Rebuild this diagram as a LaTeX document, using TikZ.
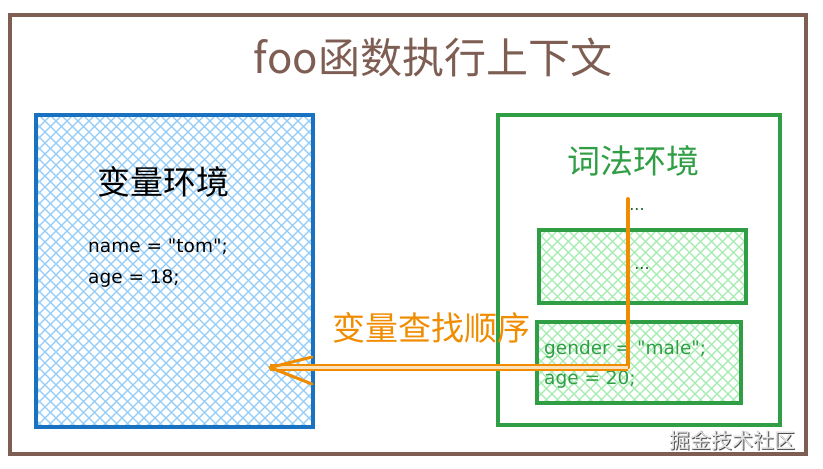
\documentclass[tikz,border=0pt]{standalone}
\usepackage{fontspec}
\newfontfamily\cjk{Noto Sans CJK SC}
\newfontfamily\codefont{DejaVu Sans}
\definecolor{brownc}{HTML}{7E5D52}
\definecolor{bluec}{HTML}{1971C2}
\definecolor{bluehatch}{HTML}{93CCF7}
\definecolor{greenc}{HTML}{2F9E44}
\definecolor{greenhatch}{HTML}{A3EBAE}
\definecolor{orangec}{HTML}{F08C00}
\begin{document}
\begin{tikzpicture}[x=1pt,y=-1pt,
  frame/.style={draw=brownc,line width=4.5pt},
  bluebox/.style={draw=bluec,line width=3.5pt,rectangle,inner sep=0pt},
  greenbox/.style={draw=greenc,line width=3.5pt,rectangle,inner sep=0pt},
  hatchb/.style={draw=bluehatch,line width=1.3pt},
  hatchg/.style={draw=greenhatch,line width=1.3pt},
  orangeline/.style={draw=orangec,line width=4pt,line cap=round,line join=round},
  txt/.style={font=\cjk,inner sep=0pt},
  code/.style={font=\codefont\fontsize{18.5}{22}\selectfont,inner sep=0pt,anchor=west}
]
\useasboundingbox (0,0) rectangle (823,469);
\fill[white] (0,0) rectangle (823,469);
\draw[frame] (10,15) rectangle (806,454);

\node[txt,text=brownc,font=\cjk\fontsize{42}{48}\selectfont] (title) at (433,57) {foo函数执行上下文};

% blue box hatch
\begin{scope}
\clip (36,115) rectangle (313,427);
\foreach \i in {-340,-329,...,660} {
  \draw[hatchb] (\i,110) -- ++(330,330);
  \draw[hatchb] (\i,110) -- ++(-330,330);
}
\end{scope}
\node[bluebox,minimum width=277pt,minimum height=312pt] (varenv) at (174.5,271) {};
\node[txt,font=\cjk\fontsize{33}{38}\selectfont] (varlabel) at (163,182) {变量环境};
\node[code] (name) at (88,247) {name = "tom";};
\node[code] (age1) at (88,279) {age = 18;};

% green outer box
\node[greenbox,minimum width=282pt,minimum height=310pt] (lexenv) at (639,270) {};
\node[txt,text=greenc,font=\cjk\fontsize{33}{38}\selectfont] (lexlabel) at (633,161) {词法环境};
\node[txt,text=greenc!60!black,font=\codefont\fontsize{16}{18}\selectfont] (dots0) at (637,210) {...};

% inner box 1
\begin{scope}
\clip (539,230) rectangle (746,303);
\foreach \i in {200,211,...,1000} {
  \draw[hatchg] (\i,225) -- ++(90,90);
  \draw[hatchg] (\i,225) -- ++(-90,90);
}
\end{scope}
\node[greenbox,minimum width=207pt,minimum height=73pt] (inner1) at (642.5,266.5) {};
\node[txt,text=greenc!60!black,font=\codefont\fontsize{16}{18}\selectfont] (dots1) at (642,269) {...};

% inner box 2
\begin{scope}
\clip (537,322) rectangle (741,403);
\foreach \i in {200,211,...,1000} {
  \draw[hatchg] (\i,317) -- ++(95,95);
  \draw[hatchg] (\i,317) -- ++(-95,95);
}
\end{scope}
\node[greenbox,minimum width=204pt,minimum height=81pt] (inner2) at (639,362.5) {};
\node[code,text=greenc] (gender) at (544,349) {gender = "male";};
\node[code,text=greenc] (age2) at (544,380) {age = 20;};

% orange arrow
\node[txt,text=orangec,font=\cjk\fontsize{33}{38}\selectfont] (order) at (431,328) {变量查找顺序};
\coordinate (vtop) at (628,199);
\coordinate (corner) at (628,367.5);
\coordinate (tip) at (270,367.5);
\coordinate (wing1) at (312,357);
\coordinate (wing2) at (312,384);
\draw[orangeline] (vtop) -- (corner);
\draw[draw=orangec,line width=2pt,double=orangec!25,double distance=2.6pt] (corner) -- (tip);
\draw[orangeline,line width=3pt] (wing1) -- (tip) -- (wing2);

% watermark
\node[txt,text=black!70,font=\cjk\fontsize{21}{24}\selectfont] (wmshadow) at (733.8,441.8) {掘金技术社区};
\node[txt,text=black!12,font=\cjk\fontsize{21}{24}\selectfont] (wm) at (732.5,440.5) {掘金技术社区};
\end{tikzpicture}
\end{document}
